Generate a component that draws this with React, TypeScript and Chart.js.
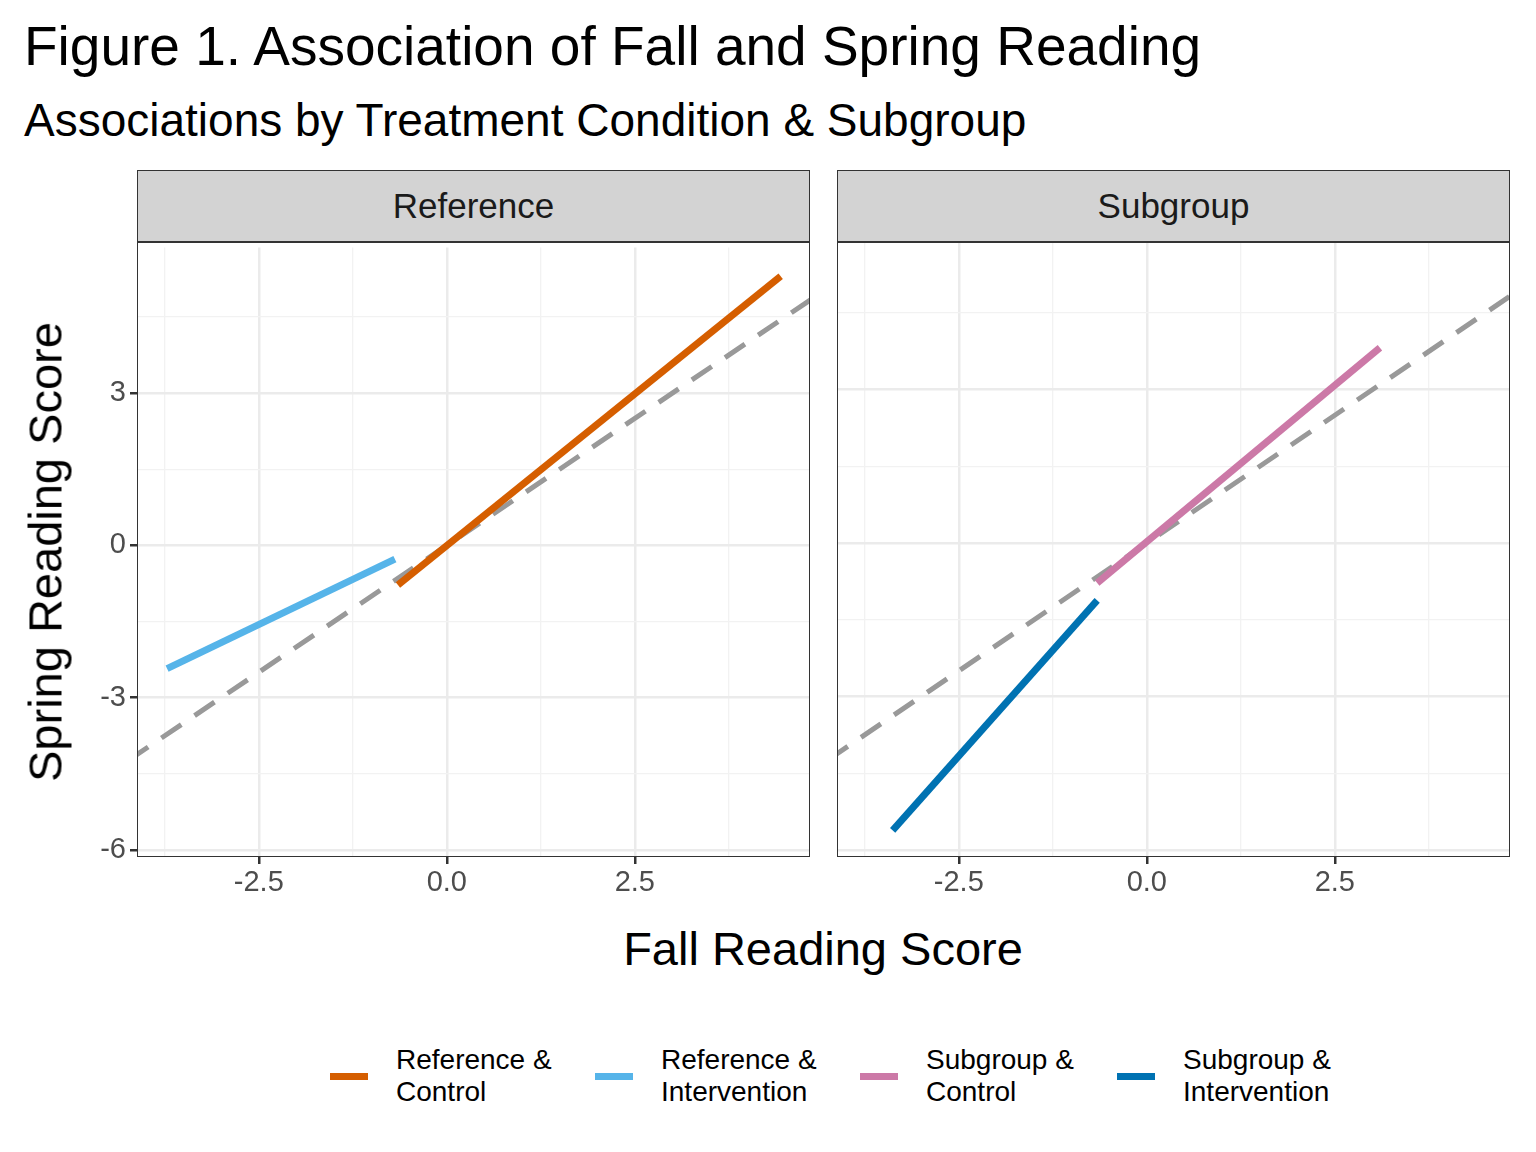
import { useEffect, useRef } from "react";
import Chart from "chart.js/auto";

const xMin = -4.12;
const xMax = 4.83;
const yMin = -6.14;
const yMax = 5.87;
const xTicks = [-3.75, -2.5, -1.25, 0, 1.25, 2.5, 3.75];
const xMajor = [-2.5, 0, 2.5];
const yTicks = [-6, -4.5, -3, -1.5, 0, 1.5, 3, 4.5];
const yMajor = [-6, -3, 0, 3];

const refControl = [{ x: -0.65, y: -0.78 }, { x: 4.44, y: 5.3 }];
const refIntervention = [{ x: -3.72, y: -2.43 }, { x: -0.69, y: -0.27 }];
const subControl = [{ x: -0.66, y: -0.78 }, { x: 3.1, y: 3.82 }];
const subIntervention = [{ x: -3.38, y: -5.62 }, { x: -0.66, y: -1.12 }];
const identity = [{ x: -6, y: -6 }, { x: 7, y: 7 }];

const colors = {
  refControl: "#D55E00",
  refIntervention: "#56B4E9",
  subControl: "#CC79A7",
  subIntervention: "#0072B2",
};

const font = "'Liberation Sans', Arial, sans-serif";
const tickSize = 29;
const shift = 17;

function Panel({ left, showY, series }: { left: number; showY: boolean; series: { data: { x: number; y: number }[]; color: string }[] }) {
  const canvasRef = useRef<HTMLCanvasElement | null>(null);

  useEffect(() => {
    if (!canvasRef.current) return;
    const gridColor = (isMajor: boolean) => (isMajor ? "#EBEBEB" : "#F2F2F2");
    const chart = new Chart(canvasRef.current, {
      type: "line",
      data: {
        datasets: [
          ...series.map((s) => ({
            data: s.data,
            borderColor: s.color,
            borderWidth: 7,
            pointRadius: 0,
            borderCapStyle: "butt" as const,
          })),
          {
            data: identity,
            borderColor: "#999999",
            borderWidth: 5,
            borderDash: [24, 16],
            pointRadius: 0,
          },
        ],
      },
      options: {
        animation: false,
        responsive: false,
        layout: { padding: { right: 2, top: 0 } },
        plugins: { legend: { display: false }, tooltip: { enabled: false } },
        scales: {
          x: {
            type: "linear",
            min: xMin,
            max: xMax,
            afterBuildTicks: (scale) => {
              scale.ticks = xTicks.map((v) => ({ value: v }));
            },
            afterFit: (scale) => {
              scale.height = 50;
            },
            border: { display: false },
            grid: {
              color: (c) => gridColor(xMajor.includes(c.tick.value)),
              lineWidth: (c) => (xMajor.includes(c.tick.value) ? 2.5 : 1.3),
              tickColor: (c) => (xMajor.includes(c.tick.value) ? "#333333" : "rgba(0,0,0,0)"),
              tickLength: 7,
            },
            ticks: {
              color: "#4D4D4D",
              font: { family: font, size: tickSize },
              maxRotation: 0,
              autoSkip: false,
              padding: 2,
              callback: (v) => (xMajor.includes(Number(v)) ? Number(v).toFixed(1) : ""),
            },
          },
          y: {
            type: "linear",
            min: yMin,
            max: yMax,
            afterBuildTicks: (scale) => {
              scale.ticks = yTicks.map((v) => ({ value: v }));
            },
            afterFit: (scale) => {
              scale.width = showY ? 137 : 0;
            },
            border: { display: false },
            grid: {
              color: (c) => gridColor(yMajor.includes(c.tick.value)),
              lineWidth: (c) => (yMajor.includes(c.tick.value) ? 2.5 : 1.3),
              tickColor: (c) => (showY && yMajor.includes(c.tick.value) ? "#333333" : "rgba(0,0,0,0)"),
              tickLength: showY ? 7 : 0,
            },
            ticks: {
              display: showY,
              color: "#4D4D4D",
              font: { family: font, size: tickSize },
              autoSkip: false,
              padding: 4,
              callback: (v) => (yMajor.includes(Number(v)) ? String(v) : ""),
            },
          },
        },
      },
    });
    return () => chart.destroy();
  }, []);

  const width = showY ? 812 : 675;
  const top = showY ? 243 - shift : 243;
  const height = 614 + 50 + (showY ? shift : 0);
  return (
    <canvas
      ref={canvasRef}
      width={width}
      height={height}
      style={{ position: "absolute", left, top, width, height }}
    />
  );
}

function Strip({ left, label }: { left: number; label: string }) {
  return (
    <>
      <div
        style={{
          position: "absolute", left, top: 170, width: 673, height: 72, boxSizing: "border-box",
          background: "#D3D3D3", border: "1.5px solid #333", display: "flex", alignItems: "center",
          justifyContent: "center", fontSize: 35, color: "#1A1A1A",
        }}
      >
        {label}
      </div>
      <div
        style={{
          position: "absolute", left, top: 242, width: 673, height: 615, boxSizing: "border-box",
          border: "1.5px solid #333", pointerEvents: "none",
        }}
      />
    </>
  );
}

const legendItems = [
  { label: ["Reference &", "Control"], color: colors.refControl, left: 330 },
  { label: ["Reference &", "Intervention"], color: colors.refIntervention, left: 595 },
  { label: ["Subgroup &", "Control"], color: colors.subControl, left: 860 },
  { label: ["Subgroup &", "Intervention"], color: colors.subIntervention, left: 1117 },
];

export default function App() {
  document.body.style.margin = "0";
  return (
    <div style={{ position: "relative", width: 1536, height: 1152, background: "#fff", fontFamily: font, overflow: "hidden" }}>
      <div style={{ position: "absolute", left: 24, top: 14, fontSize: 55, color: "#000", whiteSpace: "nowrap" }}>
        Figure 1. Association of Fall and Spring Reading
      </div>
      <div style={{ position: "absolute", left: 24, top: 93, fontSize: 46, color: "#000", whiteSpace: "nowrap" }}>
        Associations by Treatment Condition &amp; Subgroup
      </div>
      <Panel
        left={0}
        showY
        series={[
          { data: refIntervention, color: colors.refIntervention },
          { data: refControl, color: colors.refControl },
        ]}
      />
      <Panel
        left={837}
        showY={false}
        series={[
          { data: subIntervention, color: colors.subIntervention },
          { data: subControl, color: colors.subControl },
        ]}
      />
      <Strip left={137} label="Reference" />
      <Strip left={837} label="Subgroup" />
      <div
        style={{
          position: "absolute", left: 45, top: 552, transform: "translate(-50%, -50%) rotate(-90deg)",
          fontSize: 47, whiteSpace: "nowrap", color: "#000",
        }}
      >
        Spring Reading Score
      </div>
      <div style={{ position: "absolute", left: 823, top: 948, transform: "translate(-50%, -50%)", fontSize: 47, whiteSpace: "nowrap" }}>
        Fall Reading Score
      </div>
      {legendItems.map((item) => (
        <div key={item.label.join()} style={{ position: "absolute", left: item.left, top: 1044, display: "flex", alignItems: "center" }}>
          <div style={{ width: 38, height: 7, background: item.color, marginRight: 28 }} />
          <div style={{ fontSize: 28, lineHeight: "32px", color: "#000" }}>
            {item.label[0]}
            <br />
            {item.label[1]}
          </div>
        </div>
      ))}
    </div>
  );
}
